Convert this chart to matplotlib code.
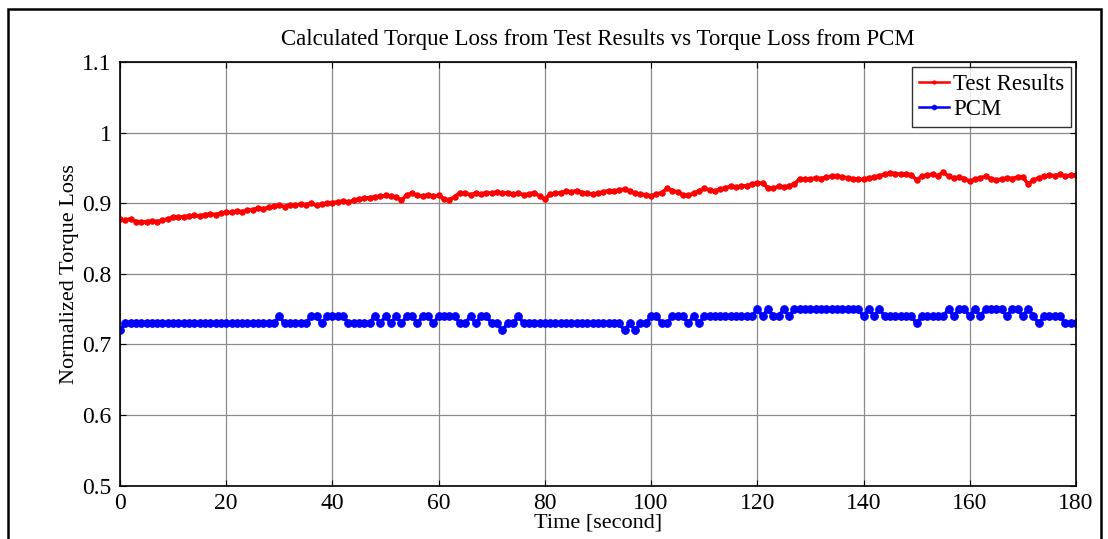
import matplotlib

matplotlib.use("Agg")

import matplotlib.pyplot as plt
import numpy as np
from matplotlib.patches import Rectangle

# Time base [s], one sample per second
time_s = np.arange(0, 181, 1)

# Test results, normalized torque loss (x 1e-3)
test_results_milli = [
    877, 876, 878, 874, 873, 874, 875, 874, 876, 878,
    880, 880, 881, 882, 883, 882, 884, 885, 884, 886,
    887, 887, 889, 888, 890, 891, 893, 892, 894, 896,
    897, 895, 898, 897, 899, 898, 900, 897, 899, 900,
    901, 902, 903, 902, 904, 906, 907, 908, 909, 910,
    911, 910, 909, 904, 912, 914, 911, 910, 912, 910,
    911, 906, 905, 909, 915, 914, 912, 914, 913, 915,
    914, 916, 914, 915, 913, 914, 912, 913, 915, 910,
    906, 913, 914, 915, 917, 916, 918, 915, 914, 913,
    914, 916, 918, 917, 919, 920, 917, 914, 913, 912,
    910, 913, 915, 921, 918, 916, 912, 911, 914, 917,
    921, 919, 917, 920, 922, 924, 923, 924, 925, 927,
    929, 928, 922, 921, 924, 923, 925, 927, 935, 934,
    934, 936, 935, 937, 938, 939, 937, 936, 935, 934,
    934, 936, 937, 939, 941, 943, 942, 941, 942, 940,
    933, 938, 940, 941, 939, 944, 938, 936, 937, 935,
    931, 934, 936, 938, 935, 933, 934, 936, 935, 937,
    937, 927, 933, 936, 938, 940, 939, 941, 938, 940,
    940,
]

# PCM, normalized torque loss (x 1e-2)
pcm_centi = [
    72, 73, 73, 73, 73, 73, 73, 73, 73, 73,
    73, 73, 73, 73, 73, 73, 73, 73, 73, 73,
    73, 73, 73, 73, 73, 73, 73, 73, 73, 73,
    74, 73, 73, 73, 73, 73, 74, 74, 73, 74,
    74, 74, 74, 73, 73, 73, 73, 73, 74, 73,
    74, 73, 74, 73, 74, 74, 73, 74, 74, 73,
    74, 74, 74, 74, 73, 73, 74, 73, 74, 74,
    73, 73, 72, 73, 73, 74, 73, 73, 73, 73,
    73, 73, 73, 73, 73, 73, 73, 73, 73, 73,
    73, 73, 73, 73, 73, 72, 73, 72, 73, 73,
    74, 74, 73, 73, 74, 74, 74, 73, 74, 73,
    74, 74, 74, 74, 74, 74, 74, 74, 74, 74,
    75, 74, 75, 74, 74, 75, 74, 75, 75, 75,
    75, 75, 75, 75, 75, 75, 75, 75, 75, 75,
    74, 75, 74, 75, 74, 74, 74, 74, 74, 74,
    73, 74, 74, 74, 74, 74, 75, 74, 75, 75,
    74, 75, 74, 75, 75, 75, 75, 74, 75, 75,
    74, 75, 74, 73, 74, 74, 74, 74, 73, 73,
    73,
]

x_ticks = [0, 20, 40, 60, 80, 100, 120, 140, 160, 180]
y_ticks = [0.5, 0.6, 0.7, 0.8, 0.9, 1.0, 1.1]
y_tick_labels = ["0.5", "0.6", "0.7", "0.8", "0.9", "1", "1.1"]

test_results = np.array(test_results_milli) / 1000.0
pcm = np.array(pcm_centi) / 100.0

plt.rcParams["font.family"] = ["Liberation Serif", "DejaVu Serif"]

figure = plt.figure(figsize=(11.08, 5.39), dpi=100)
axes = figure.add_axes([0.1083, 0.0989, 0.8628, 0.786])

axes.plot(
    time_s,
    test_results,
    "-o",
    color="#ff0000",
    linewidth=2.6,
    markersize=4.0,
    markeredgewidth=0.6,
    label="Test Results",
)

axes.plot(
    time_s,
    pcm,
    "-o",
    color="#0000ff",
    linewidth=2.6,
    markersize=5.6,
    markeredgewidth=0.6,
    label="PCM",
)

axes.set_xlim(0, 180)
axes.set_ylim(0.5, 1.1)
axes.set_xticks(x_ticks)
axes.set_yticks(y_ticks)
axes.set_yticklabels(y_tick_labels)

axes.tick_params(
    direction="in",
    length=4,
    width=0.8,
    top=True,
    right=True,
    labelsize=17,
)
axes.tick_params(axis="x", pad=5)
axes.tick_params(axis="y", pad=6)

axes.grid(True, color="#8a8a8a", linewidth=0.9)
axes.set_axisbelow(True)

for spine in axes.spines.values():
    spine.set_linewidth(1.2)

axes.set_title(
    "Calculated Torque Loss from Test Results vs Torque Loss from PCM",
    fontsize=16.5,
    pad=12,
)
axes.set_xlabel("Time [second]", fontsize=16, labelpad=0)
axes.set_ylabel("Normalized Torque Loss", fontsize=16, labelpad=2)

legend = axes.legend(
    loc="upper right",
    fontsize=16.5,
    frameon=True,
    fancybox=False,
    edgecolor="black",
    handlelength=1.3,
    handletextpad=0.2,
    borderpad=0.3,
    labelspacing=0.2,
    borderaxespad=0.2,
    markerscale=0.6,
)
legend.get_frame().set_linewidth(1.0)
for handle in legend.get_lines():
    handle.set_linewidth(1.8)

# Frame around the whole figure
figure.patches.append(
    Rectangle(
        (8 / 1108, -0.1),
        (1101 - 8) / 1108,
        (539 - 9) / 539 + 0.1,
        transform=figure.transFigure,
        fill=False,
        edgecolor="black",
        linewidth=1.8,
    )
)

figure.savefig("out.png", dpi=100)
